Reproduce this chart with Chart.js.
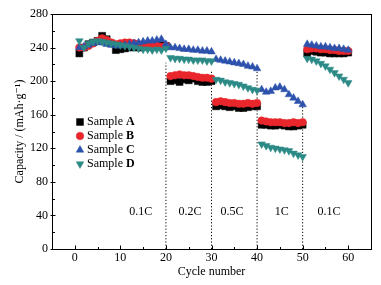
<!DOCTYPE html>
<html>
<head>
<meta charset="utf-8">
<script src="https://cdn.jsdelivr.net/npm/chart.js@4.4.0/dist/chart.umd.min.js"></script>
<style>
  html, body { margin: 0; padding: 0; background: #fff; }
  #wrap { width: 381px; height: 285px; }
</style>
</head>
<body>
<div id="wrap"><canvas id="chart_rate"></canvas></div>
<script>
// cycle numbers
var cycles = [
  1, 2, 3, 4, 5, 6, 7, 8, 9, 10, 11, 12, 13, 14, 15, 16, 17, 18, 19, 20,
  21, 22, 23, 24, 25, 26, 27, 28, 29, 30, 31, 32, 33, 34, 35, 36, 37, 38, 39, 40,
  41, 42, 43, 44, 45, 46, 47, 48, 49, 50, 51, 52, 53, 54, 55, 56, 57, 58, 59, 60
];

// capacity, mAh/g
var sampleA = [
  233, 240, 244, 246, 248, 254, 250, 245, 237, 238, 239, 240, 241, 240, 241, 242, 241, 242, 243, 242,
  200, 201, 199, 202, 201, 203, 200, 199, 199, 200,
  170, 171, 170, 169, 170, 168, 168, 169, 170, 170,
  148, 148, 147, 147, 148, 147, 146, 146, 147, 148,
  233, 236, 235, 234, 234, 233, 233, 233, 233, 234
];
var sampleB = [
  240, 240, 242, 245, 248, 251, 249, 246, 244, 245, 246, 246, 245, 244, 243, 243, 242, 242, 241, 242,
  206, 207, 208, 207, 207, 206, 205, 204, 204, 203,
  175, 176, 175, 174, 174, 173, 173, 174, 173, 174,
  153, 152, 151, 151, 151, 150, 150, 151, 150, 151,
  238, 239, 239, 238, 238, 237, 237, 236, 236, 236
];
var sampleC = [
  240, 241, 243, 245, 246, 246, 244, 243, 242, 242, 243, 244, 245, 246, 247, 248, 248, 249, 250, 244,
  240, 240, 239, 238, 238, 237, 237, 236, 236, 235,
  226, 225, 224, 223, 222, 221, 220, 218, 217, 215,
  190, 187, 188, 192, 193, 190, 184, 180, 176, 172,
  244, 243, 242, 241, 241, 240, 239, 239, 238, 237
];
var sampleD = [
  248, 240, 245, 247, 248, 247, 246, 245, 244, 243, 242, 241, 240, 239, 238, 238, 237, 238, 237, 239,
  228, 227, 227, 226, 226, 225, 225, 225, 224, 224,
  202, 201, 199, 198, 197, 196, 194, 192, 190, 189,
  125, 123, 121, 120, 119, 118, 117, 114, 112, 110,
  227, 226, 224, 221, 218, 214, 210, 206, 202, 198
];

var seriesNames = ['A', 'B', 'C', 'D'];

// rate steps
var rateBoundaries = [20, 30, 40, 50];
var boundaryTops = [222, 213, 216, 170];
var rateLabels = ['0.1C', '0.2C', '0.5C', '1C', '0.1C'];
var rateLabelX = [14.5, 25.3, 34.5, 45.4, 55.8];
var rateLabelY = 44;

// ticks
var xTicks = [0, 10, 20, 30, 40, 50, 60];
var xMinorTicks = [5, 15, 25, 35, 45, 55];
var yTicks = [0, 40, 80, 120, 160, 200, 240, 280];
var yMinorTicks = [20, 60, 100, 140, 180, 220, 260];

var FONT = "'Liberation Serif', 'DejaVu Serif', serif";
Chart.defaults.font.family = FONT;
Chart.defaults.font.size = 12;
Chart.defaults.color = '#000';

function pts(values) {
  return values.map(function (v, i) { return { x: cycles[i], y: v }; });
}

var markerStyles = [
  { color: '#000000', pointStyle: 'rect', radius: 4.9, rotation: 0 },
  { color: '#e8262b', pointStyle: 'circle', radius: 3.8, rotation: 0 },
  { color: '#2d52ad', pointStyle: 'triangle', radius: 4.4, rotation: 0 },
  { color: '#2c8a86', pointStyle: 'triangle', radius: 4.4, rotation: 180 }
];
var seriesData = [sampleA, sampleB, sampleC, sampleD];

var datasets = seriesData.map(function (vals, i) {
  var m = markerStyles[i];
  return {
    label: 'Sample ' + seriesNames[i],
    data: pts(vals),
    showLine: false,
    pointStyle: m.pointStyle,
    pointRotation: m.rotation,
    pointRadius: m.radius,
    pointBackgroundColor: m.color,
    pointBorderColor: m.color,
    pointBorderWidth: 0.5,
    backgroundColor: m.color,
    borderColor: m.color,
    order: 4 - i
  };
});

rateBoundaries.forEach(function (b, i) {
  datasets.push({
    label: 'boundary',
    data: [{ x: b, y: 0 }, { x: b, y: boundaryTops[i] }],
    showLine: true,
    borderColor: '#000',
    borderWidth: 1,
    borderDash: [1.2, 2],
    pointRadius: 0,
    order: 10
  });
});

var frameAndTicks = {
  id: 'frameAndTicks',
  afterDraw: function (chart) {
    var ctx = chart.ctx, a = chart.chartArea;
    var xs = chart.scales.x, ys = chart.scales.y;
    ctx.save();
    ctx.strokeStyle = '#000';
    ctx.lineWidth = 1;
    var L = Math.round(a.left) + 0.5, R = Math.round(a.right) + 0.5;
    var T = Math.round(a.top) + 0.5, B = Math.round(a.bottom) + 0.5;
    ctx.strokeRect(L, T, R - L, B - T);
    ctx.beginPath();
    xTicks.forEach(function (v) {
      var px = Math.round(xs.getPixelForValue(v)) + 0.5;
      ctx.moveTo(px, B); ctx.lineTo(px, B - 4);
    });
    xMinorTicks.forEach(function (v) {
      var px = Math.round(xs.getPixelForValue(v)) + 0.5;
      ctx.moveTo(px, B); ctx.lineTo(px, B - 2.5);
    });
    yTicks.forEach(function (v) {
      var py = Math.round(ys.getPixelForValue(v)) + 0.5;
      ctx.moveTo(L - 2, py); ctx.lineTo(L + 3, py);
    });
    yMinorTicks.forEach(function (v) {
      var py = Math.round(ys.getPixelForValue(v)) + 0.5;
      ctx.moveTo(L, py); ctx.lineTo(L + 2.5, py);
    });
    ctx.stroke();

    // rate labels
    ctx.fillStyle = '#000';
    ctx.font = '12px ' + FONT;
    ctx.textAlign = 'center';
    ctx.textBaseline = 'middle';
    rateLabels.forEach(function (t, i) {
      ctx.fillText(t, xs.getPixelForValue(rateLabelX[i]), ys.getPixelForValue(rateLabelY));
    });

    // legend, "Sample" normal + bold letter
    ctx.textAlign = 'left';
    seriesNames.forEach(function (n, i) {
      var m = markerStyles[i];
      var my = a.top + 108 + i * 14;
      var mx = a.left + 28;
      ctx.fillStyle = m.color;
      ctx.strokeStyle = m.color;
      ctx.lineWidth = 0.5;
      Chart.helpers.drawPoint(ctx, { pointStyle: m.pointStyle, radius: m.radius, rotation: m.rotation, borderWidth: 0.5 }, mx, my);
      ctx.fillStyle = '#000';
      ctx.font = '12px ' + FONT;
      var tx = a.left + 35;
      ctx.fillText('Sample ', tx, my);
      var w = ctx.measureText('Sample ').width;
      ctx.font = 'bold 12px ' + FONT;
      ctx.fillText(n, tx + w, my);
    });
    ctx.restore();
  }
};

var chart_rate = new Chart(document.getElementById('chart_rate'), {
  type: 'scatter',
  data: { datasets: datasets },
  options: {
    animation: false,
    responsive: true,
    maintainAspectRatio: false,
    layout: { padding: { left: 0, right: 10, top: 14, bottom: 0 } },
    plugins: {
      legend: { display: false },
      tooltip: { enabled: false }
    },
    scales: {
      x: {
        type: 'linear',
        min: -5,
        max: 65,
        afterBuildTicks: function (scale) {
          scale.ticks = xTicks.map(function (v) { return { value: v }; });
        },
        afterFit: function (scale) { scale.height = 36; },
        ticks: { padding: 2, font: { size: 12 }, color: '#000', maxRotation: 0 },
        grid: { display: false, drawTicks: false },
        border: { display: false },
        title: { display: true, text: 'Cycle number', font: { size: 12 }, color: '#000', padding: { top: 6, bottom: 6 } }
      },
      y: {
        type: 'linear',
        min: 0,
        max: 280,
        afterBuildTicks: function (scale) {
          scale.ticks = yTicks.map(function (v) { return { value: v }; });
        },
        afterFit: function (scale) { scale.width = 52; },
        ticks: { padding: 4, font: { size: 12 }, color: '#000' },
        grid: { display: false, drawTicks: false },
        border: { display: false },
        title: { display: true, text: 'Capacity / (mAh\u00b7g\u207b\u00b9)', font: { size: 12 }, color: '#000', padding: { top: 13, bottom: 0 } }
      }
    }
  },
  plugins: [frameAndTicks]
});
</script>
</body>
</html>
